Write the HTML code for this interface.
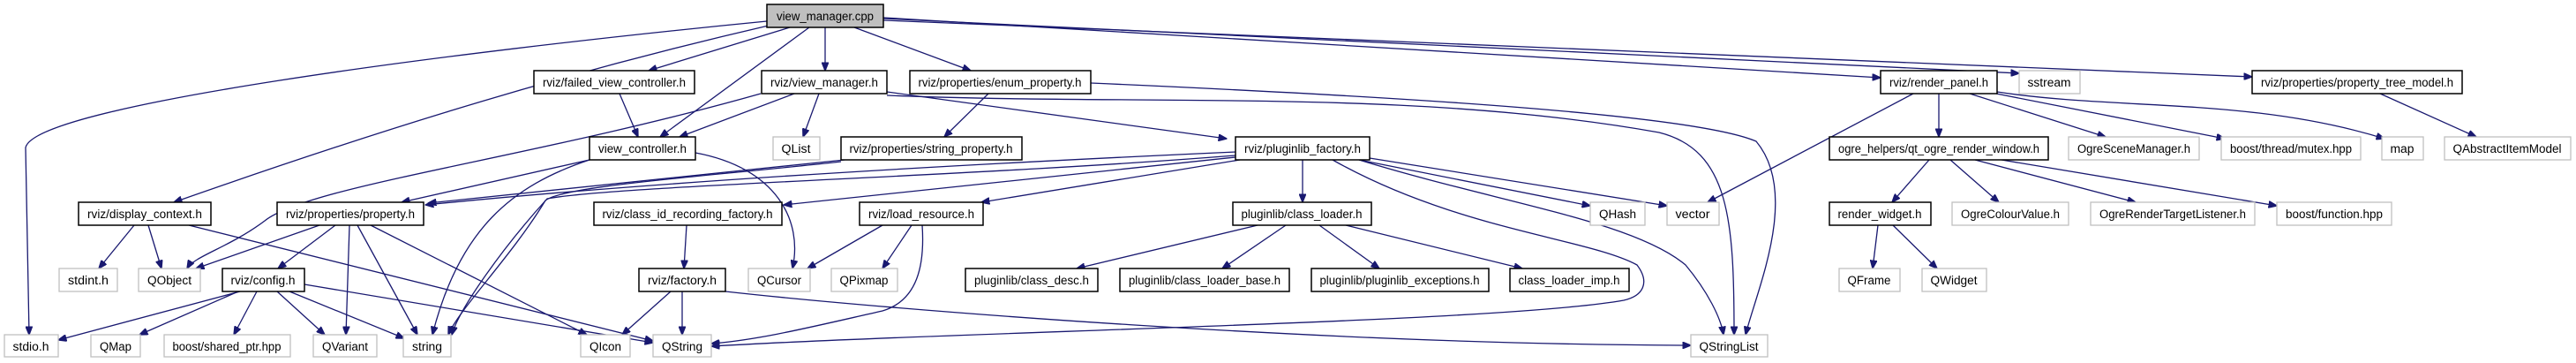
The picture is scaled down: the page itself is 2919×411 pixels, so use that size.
<!DOCTYPE html>
<html><head><meta charset="utf-8"><style>
html,body{margin:0;padding:0;background:#fff;}
svg{display:block;}
text{font-family:"Liberation Sans",Helvetica,sans-serif;font-size:13.5px;fill:#000;}
.e{fill:none;stroke:#191970;stroke-width:1.3;marker-end:url(#a);}
.b{fill:#fff;stroke:#000;stroke-width:1.5;}
.g{fill:#fff;stroke:#bfbfbf;stroke-width:1.3;}
</style></head><body>
<svg width="2919" height="411" viewBox="0 0 2919 411" xmlns="http://www.w3.org/2000/svg">
<defs><marker id="a" markerWidth="10" markerHeight="8" refX="9.5" refY="4" orient="auto" markerUnits="userSpaceOnUse"><path d="M0,0 L10,4 L0,8 z" fill="#191970" stroke="#191970"/></marker></defs>
<!-- edges -->
<path class="e" d="M869,24 C500,60 40,120 29,167 L33,379"/>
<path class="e" d="M875,28 C650,80 450,140 197,229"/>
<path class="e" d="M895,31 L735,80"/>
<path class="e" d="M917,31 L748,155"/>
<path class="e" d="M935,31 L935,80"/>
<path class="e" d="M968,31 L1100,80"/>
<path class="e" d="M1001,20 L2131,88"/>
<path class="e" d="M1001,21 L2288,83"/>
<path class="e" d="M1001,23 L2552,87"/>
<path class="e" d="M702,106 L723,155"/>
<path class="e" d="M862,106 C600,180 350,210 300,250 C260,280 220,290 212,304"/>
<path class="e" d="M900,106 L770,155"/>
<path class="e" d="M928,106 L910,155"/>
<path class="e" d="M1005,104 L1390,157"/>
<path class="e" d="M1005,108 C1300,120 1600,100 1880,150 C1960,170 1965,250 1965,379"/>
<path class="e" d="M1236,94 C1600,110 1920,130 1990,160 C2040,220 1990,330 1978,379"/>
<path class="e" d="M1120,106 L1070,155"/>
<path class="e" d="M957,181 L485,230"/>
<path class="e" d="M953,183 C800,200 640,210 618,227 C580,290 520,350 508,379"/>
<path class="e" d="M668,181 L455,229"/>
<path class="e" d="M668,181 C580,210 520,260 490,379"/>
<path class="e" d="M788,173 C880,190 910,250 898,304"/>
<path class="e" d="M1400,172 C1000,190 700,210 482,232"/>
<path class="e" d="M1400,176 C1100,200 700,210 620,225 C570,280 520,350 512,379"/>
<path class="e" d="M1400,178 L888,232"/>
<path class="e" d="M1405,181 L1112,229"/>
<path class="e" d="M1476,181 L1476,229"/>
<path class="e" d="M1540,181 L1802,233"/>
<path class="e" d="M1552,179 L1889,233"/>
<path class="e" d="M1510,181 C1650,260 1800,270 1855,300 C1870,320 1862,335 1840,340 C1700,365 1100,375 806,392"/>
<path class="e" d="M1540,181 C1700,230 1850,250 1910,300 C1935,330 1950,360 1953,379"/>
<path class="e" d="M1425,255 L1220,304"/>
<path class="e" d="M1457,255 L1385,304"/>
<path class="e" d="M1495,255 L1563,304"/>
<path class="e" d="M1525,255 L1725,304"/>
<path class="e" d="M1000,255 L915,304"/>
<path class="e" d="M1033,255 L1000,304"/>
<path class="e" d="M1045,255 C1048,300 1040,340 1000,352 C920,370 860,385 806,389"/>
<path class="e" d="M822,330 C1000,350 1500,390 1916,391"/>
<path class="e" d="M778,255 L775,304"/>
<path class="e" d="M760,330 L705,379"/>
<path class="e" d="M773,330 L773,379"/>
<path class="e" d="M152,255 L112,304"/>
<path class="e" d="M168,255 L183,304"/>
<path class="e" d="M214,255 L740,386"/>
<path class="e" d="M362,255 L222,304"/>
<path class="e" d="M380,255 L315,304"/>
<path class="e" d="M396,255 L392,379"/>
<path class="e" d="M405,255 L473,379"/>
<path class="e" d="M420,255 L665,379"/>
<path class="e" d="M272,330 L66,385"/>
<path class="e" d="M270,330 L158,379"/>
<path class="e" d="M291,330 L265,379"/>
<path class="e" d="M314,330 L368,379"/>
<path class="e" d="M328,330 L458,383"/>
<path class="e" d="M345,322 L740,388"/>
<path class="e" d="M2168,106 L1935,229"/>
<path class="e" d="M2197,106 L2197,155"/>
<path class="e" d="M2232,106 L2386,155"/>
<path class="e" d="M2262,106 L2521,157"/>
<path class="e" d="M2263,104 C2400,125 2550,110 2702,157"/>
<path class="e" d="M2697,106 L2806,155"/>
<path class="e" d="M2186,181 L2144,229"/>
<path class="e" d="M2210,181 L2265,229"/>
<path class="e" d="M2238,181 L2420,229"/>
<path class="e" d="M2268,181 L2580,233"/>
<path class="e" d="M2128,255 L2122,304"/>
<path class="e" d="M2145,255 L2195,304"/>
<!-- nodes -->
<g>
<rect x="869" y="5" width="132" height="26" fill="#bfbfbf" stroke="#000" stroke-width="1.5"/><text x="935" y="23" text-anchor="middle" textLength="110" lengthAdjust="spacingAndGlyphs">view_manager.cpp</text>
<rect class="b" x="605" y="80" width="182" height="26"/><text x="696" y="98" text-anchor="middle" textLength="162" lengthAdjust="spacingAndGlyphs">rviz/failed_view_controller.h</text>
<rect class="b" x="863" y="80" width="142" height="26"/><text x="934" y="98" text-anchor="middle" textLength="122" lengthAdjust="spacingAndGlyphs">rviz/view_manager.h</text>
<rect class="b" x="1031" y="80" width="205" height="26"/><text x="1133" y="98" text-anchor="middle" textLength="185" lengthAdjust="spacingAndGlyphs">rviz/properties/enum_property.h</text>
<rect class="b" x="2131" y="80" width="132" height="26"/><text x="2197" y="98" text-anchor="middle" textLength="112" lengthAdjust="spacingAndGlyphs">rviz/render_panel.h</text>
<rect class="g" x="2288" y="80" width="69" height="26"/><text x="2322" y="98" text-anchor="middle" textLength="49" lengthAdjust="spacingAndGlyphs">sstream</text>
<rect class="b" x="2552" y="80" width="238" height="26"/><text x="2671" y="98" text-anchor="middle" textLength="218" lengthAdjust="spacingAndGlyphs">rviz/properties/property_tree_model.h</text>

<rect class="b" x="668" y="155" width="120" height="26"/><text x="728" y="173" text-anchor="middle" textLength="100" lengthAdjust="spacingAndGlyphs">view_controller.h</text>
<rect class="g" x="876" y="155" width="53" height="26"/><text x="902" y="173" text-anchor="middle" textLength="33" lengthAdjust="spacingAndGlyphs">QList</text>
<rect class="b" x="953" y="155" width="205" height="26"/><text x="1055" y="173" text-anchor="middle" textLength="185" lengthAdjust="spacingAndGlyphs">rviz/properties/string_property.h</text>
<rect class="b" x="1400" y="155" width="152" height="26"/><text x="1476" y="173" text-anchor="middle" textLength="132" lengthAdjust="spacingAndGlyphs">rviz/pluginlib_factory.h</text>
<rect class="b" x="2073" y="155" width="248" height="26"/><text x="2197" y="173" text-anchor="middle" textLength="228" lengthAdjust="spacingAndGlyphs">ogre_helpers/qt_ogre_render_window.h</text>
<rect class="g" x="2344" y="155" width="148" height="26"/><text x="2418" y="173" text-anchor="middle" textLength="128" lengthAdjust="spacingAndGlyphs">OgreSceneManager.h</text>
<rect class="g" x="2517" y="155" width="158" height="26"/><text x="2596" y="173" text-anchor="middle" textLength="138" lengthAdjust="spacingAndGlyphs">boost/thread/mutex.hpp</text>
<rect class="g" x="2699" y="155" width="47" height="26"/><text x="2722" y="173" text-anchor="middle" textLength="27" lengthAdjust="spacingAndGlyphs">map</text>
<rect class="g" x="2770" y="155" width="143" height="26"/><text x="2841" y="173" text-anchor="middle" textLength="123" lengthAdjust="spacingAndGlyphs">QAbstractItemModel</text>

<rect class="b" x="89" y="229" width="150" height="26"/><text x="164" y="247" text-anchor="middle" textLength="130" lengthAdjust="spacingAndGlyphs">rviz/display_context.h</text>
<rect class="b" x="314" y="229" width="166" height="26"/><text x="397" y="247" text-anchor="middle" textLength="146" lengthAdjust="spacingAndGlyphs">rviz/properties/property.h</text>
<rect class="b" x="673" y="229" width="213" height="26"/><text x="779" y="247" text-anchor="middle" textLength="193" lengthAdjust="spacingAndGlyphs">rviz/class_id_recording_factory.h</text>
<rect class="b" x="974" y="229" width="140" height="26"/><text x="1044" y="247" text-anchor="middle" textLength="120" lengthAdjust="spacingAndGlyphs">rviz/load_resource.h</text>
<rect class="b" x="1397" y="229" width="157" height="26"/><text x="1475" y="247" text-anchor="middle" textLength="137" lengthAdjust="spacingAndGlyphs">pluginlib/class_loader.h</text>
<rect class="g" x="1802" y="229" width="62" height="26"/><text x="1833" y="247" text-anchor="middle" textLength="42" lengthAdjust="spacingAndGlyphs">QHash</text>
<rect class="g" x="1889" y="229" width="59" height="26"/><text x="1918" y="247" text-anchor="middle" textLength="39" lengthAdjust="spacingAndGlyphs">vector</text>
<rect class="b" x="2073" y="229" width="115" height="26"/><text x="2130" y="247" text-anchor="middle" textLength="95" lengthAdjust="spacingAndGlyphs">render_widget.h</text>
<rect class="g" x="2212" y="229" width="132" height="26"/><text x="2278" y="247" text-anchor="middle" textLength="112" lengthAdjust="spacingAndGlyphs">OgreColourValue.h</text>
<rect class="g" x="2369" y="229" width="186" height="26"/><text x="2462" y="247" text-anchor="middle" textLength="166" lengthAdjust="spacingAndGlyphs">OgreRenderTargetListener.h</text>
<rect class="g" x="2580" y="229" width="130" height="26"/><text x="2645" y="247" text-anchor="middle" textLength="110" lengthAdjust="spacingAndGlyphs">boost/function.hpp</text>

<rect class="g" x="67" y="304" width="66" height="26"/><text x="100" y="322" text-anchor="middle" textLength="46" lengthAdjust="spacingAndGlyphs">stdint.h</text>
<rect class="g" x="157" y="304" width="70" height="26"/><text x="192" y="322" text-anchor="middle" textLength="50" lengthAdjust="spacingAndGlyphs">QObject</text>
<rect class="b" x="252" y="304" width="93" height="26"/><text x="298" y="322" text-anchor="middle" textLength="73" lengthAdjust="spacingAndGlyphs">rviz/config.h</text>
<rect class="b" x="724" y="304" width="98" height="26"/><text x="773" y="322" text-anchor="middle" textLength="78" lengthAdjust="spacingAndGlyphs">rviz/factory.h</text>
<rect class="g" x="848" y="304" width="70" height="26"/><text x="883" y="322" text-anchor="middle" textLength="50" lengthAdjust="spacingAndGlyphs">QCursor</text>
<rect class="g" x="942" y="304" width="75" height="26"/><text x="979" y="322" text-anchor="middle" textLength="55" lengthAdjust="spacingAndGlyphs">QPixmap</text>
<rect class="b" x="1094" y="304" width="150" height="26"/><text x="1169" y="322" text-anchor="middle" textLength="130" lengthAdjust="spacingAndGlyphs">pluginlib/class_desc.h</text>
<rect class="b" x="1269" y="304" width="192" height="26"/><text x="1365" y="322" text-anchor="middle" textLength="172" lengthAdjust="spacingAndGlyphs">pluginlib/class_loader_base.h</text>
<rect class="b" x="1486" y="304" width="201" height="26"/><text x="1586" y="322" text-anchor="middle" textLength="181" lengthAdjust="spacingAndGlyphs">pluginlib/pluginlib_exceptions.h</text>
<rect class="b" x="1711" y="304" width="135" height="26"/><text x="1778" y="322" text-anchor="middle" textLength="115" lengthAdjust="spacingAndGlyphs">class_loader_imp.h</text>
<rect class="g" x="2084" y="304" width="69" height="26"/><text x="2118" y="322" text-anchor="middle" textLength="49" lengthAdjust="spacingAndGlyphs">QFrame</text>
<rect class="g" x="2178" y="304" width="73" height="26"/><text x="2214" y="322" text-anchor="middle" textLength="53" lengthAdjust="spacingAndGlyphs">QWidget</text>

<rect class="g" x="5" y="379" width="61" height="25"/><text x="35" y="397" text-anchor="middle" textLength="41" lengthAdjust="spacingAndGlyphs">stdio.h</text>
<rect class="g" x="103" y="379" width="56" height="25"/><text x="131" y="397" text-anchor="middle" textLength="36" lengthAdjust="spacingAndGlyphs">QMap</text>
<rect class="g" x="186" y="379" width="143" height="25"/><text x="257" y="397" text-anchor="middle" textLength="123" lengthAdjust="spacingAndGlyphs">boost/shared_ptr.hpp</text>
<rect class="g" x="355" y="379" width="72" height="25"/><text x="391" y="397" text-anchor="middle" textLength="52" lengthAdjust="spacingAndGlyphs">QVariant</text>
<rect class="g" x="457" y="379" width="54" height="25"/><text x="484" y="397" text-anchor="middle" textLength="34" lengthAdjust="spacingAndGlyphs">string</text>
<rect class="g" x="658" y="379" width="56" height="25"/><text x="686" y="397" text-anchor="middle" textLength="36" lengthAdjust="spacingAndGlyphs">QIcon</text>
<rect class="g" x="740" y="379" width="66" height="25"/><text x="773" y="397" text-anchor="middle" textLength="46" lengthAdjust="spacingAndGlyphs">QString</text>
<rect class="g" x="1916" y="379" width="87" height="25"/><text x="1959" y="397" text-anchor="middle" textLength="67" lengthAdjust="spacingAndGlyphs">QStringList</text>
</g>
</svg>
</body></html>
